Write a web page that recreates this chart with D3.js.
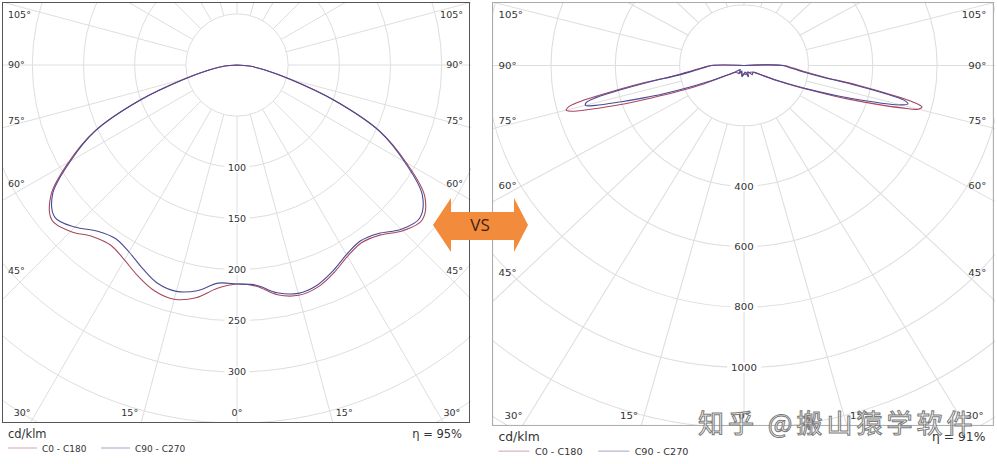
<!DOCTYPE html>
<html>
<head>
<meta charset="utf-8">
<title>LDC VS</title>
<script src="https://cdn.jsdelivr.net/npm/d3@7"></script>
<style>
  body { margin: 0; background: #fff; }
  svg text { font-family: "DejaVu Sans", Verdana, sans-serif; }
</style>
</head>
<body>
<script>
// left diagram: gamma (deg from nadir) and cd/klm per half plane
const gammaA = [0, 5, 10, 15, 20, 25, 30, 35, 40, 45, 50, 55, 60, 65, 70, 75, 80, 85, 90];
const valuesA_C0   = [214, 217, 228, 233, 231, 224, 216, 212, 217, 229, 236, 224, 191, 155, 102, 54, 27, 12, 0];
const valuesA_C180 = [214, 219, 231, 237, 235, 228, 220, 215, 219, 230, 236, 222, 190, 154, 102, 54, 27, 12, 0];
const valuesA_C90  = [214, 216, 226, 231, 229, 222, 214, 210, 215, 227, 233, 221, 189, 154, 101, 53, 27, 12, 0];
const valuesA_C270 = [214, 214, 224, 229, 227, 219, 211, 207, 212, 224, 232, 220, 188, 153, 101, 53, 27, 12, 0];
const ringTicksA = [100, 150, 200, 250, 300];
const etaA = "η = 95%";

// right diagram (batwing)
const gammaB = [0, 10, 20, 30, 40, 50, 55, 60, 64, 67, 69.5, 71, 72.5, 74, 75, 76, 77, 78, 79.5, 81, 84, 87, 90, 95];
const valuesB_C0   = [28, 30, 26, 28, 30, 34, 40, 65, 115, 180, 265, 340, 420, 510, 560, 570, 540, 470, 360, 260, 185, 150, 125, 0];
const valuesB_C180 = [28, 34, 24, 30, 32, 36, 44, 75, 140, 215, 310, 390, 465, 550, 572, 560, 510, 430, 320, 220, 160, 128, 103, 0];
const valuesB_C90  = [28, 22, 40, 24, 40, 36, 42, 62, 110, 170, 250, 310, 380, 460, 505, 525, 510, 450, 340, 245, 175, 142, 120, 0];
const valuesB_C270 = [28, 38, 20, 32, 18, 30, 46, 70, 120, 185, 270, 330, 400, 480, 510, 505, 470, 400, 300, 210, 152, 122, 100, 0];
const ringTicksB = [400, 600, 800, 1000];
const etaB = "η = 91%";

const angleTicks = [0, 15, 30, 45, 60, 75, 90, 105];
const legendNames = ["C0 - C180", "C90 - C270"];
const colors = ["#a8475f", "#4a4a96"];

const width = 997, height = 464;
const W = 469, H = 421, cx = 235, cy = 63;
const rad = Math.PI / 180;

const svg = d3.select("body").append("svg")
  .attr("width", width)
  .attr("height", height);

function drawPanel(id, transform, opt) {
  const g = svg.append("g").attr("transform", transform);
  const r = d3.scaleLinear().domain([0, opt.max]).range([0, opt.maxPx]);

  g.append("clipPath").attr("id", "clip" + id)
    .append("rect").attr("width", W).attr("height", H);

  const grid = g.append("g").attr("clip-path", "url(#clip" + id + ")")
    .style("stroke", "#dedede").style("fill", "none");

  grid.selectAll("circle")
    .data(d3.range(opt.step, opt.step * 12, opt.step))
    .enter().append("circle")
      .attr("cx", cx).attr("cy", cy)
      .attr("r", d => r(d));

  grid.selectAll("line")
    .data(d3.range(0, 360, 15))
    .enter().append("line")
      .attr("x1", d => cx + r(opt.step) * Math.sin(d * rad))
      .attr("y1", d => cy + r(opt.step) * Math.cos(d * rad))
      .attr("x2", d => cx + 900 * Math.sin(d * rad))
      .attr("y2", d => cy + 900 * Math.cos(d * rad));

  // curves: left half (C180/C270) then right half (C0/C90)
  const line = d3.lineRadial()
    .angle(d => d[0])
    .radius(d => r(d[1]))
    .curve(d3.curveCatmullRom.alpha(0.5));

  opt.series.forEach((s, i) => {
    const left = opt.gamma.map((gm, j) => [Math.PI + gm * rad, s[1][j]]).reverse();
    const right = opt.gamma.map((gm, j) => [Math.PI - gm * rad, s[0][j]]).slice(1);
    g.append("path")
      .attr("transform", "translate(" + cx + "," + cy + ")")
      .attr("d", line(left.concat(right)))
      .style("fill", "none")
      .style("stroke", colors[i])
      .style("stroke-width", 1.1);
  });

  // ring values on the 0° axis
  const rl = g.selectAll(".ringlabel")
    .data(opt.ticks)
    .enter().append("g")
      .attr("class", "ringlabel")
      .attr("transform", d => "translate(" + cx + "," + (cy + r(d)) + ")");
  rl.append("rect")
    .attr("x", d => -String(d).length * 3.2 - 3).attr("y", -5)
    .attr("width", d => String(d).length * 6.4 + 6).attr("height", 10)
    .style("fill", "#fff");
  rl.append("text")
    .attr("text-anchor", "middle").attr("dy", "0.35em")
    .style("font-size", "9.5px").style("fill", "#333")
    .text(d => d);

  // angle labels
  const labels = [];
  angleTicks.forEach(a => {
    if (a >= 45) {
      const y = Math.max(13, cy + 206 * Math.tan((90 - a) * rad));
      labels.push({ t: a + "°", x: 6, y: y, anchor: "start" });
      labels.push({ t: a + "°", x: W - 8, y: y, anchor: "end" });
    } else {
      const dx = a === 0 ? 0 : 348 * Math.tan(a * rad) + 14;
      labels.push({ t: a + "°", x: cx - dx, y: cy + 348, anchor: "middle" });
      if (a > 0) labels.push({ t: a + "°", x: cx + dx, y: cy + 348, anchor: "middle" });
    }
  });
  g.selectAll(".anglelabel")
    .data(labels)
    .enter().append("text")
      .attr("class", "anglelabel")
      .attr("x", d => d.x).attr("y", d => d.y)
      .attr("dy", "0.35em")
      .attr("text-anchor", d => d.anchor)
      .style("font-size", "9.5px").style("fill", "#333")
      .text(d => d.t);

  g.append("text").attr("x", 6).attr("y", 436)
    .style("font-size", "11.5px").style("fill", "#333").text("cd/klm");
  g.append("text").attr("x", W - 9).attr("y", 436)
    .attr("text-anchor", "end")
    .style("font-size", "11.5px").style("fill", "#333").text(opt.eta);

  legendNames.forEach((name, i) => {
    const x0 = 6 + i * 93;
    g.append("line")
      .attr("x1", x0).attr("x2", x0 + 29).attr("y1", 446).attr("y2", 446)
      .style("stroke", colors[i]).style("stroke-opacity", 0.5);
    g.append("text").attr("x", x0 + 34).attr("y", 449.5)
      .style("font-size", "9px").style("fill", "#333").text(name);
  });
  return g;
}

const panelA = drawPanel("A", "translate(2,2)", {
  max: 300, maxPx: 307, step: 50, ticks: ringTicksA, eta: etaA,
  gamma: gammaA, series: [[valuesA_C0, valuesA_C180], [valuesA_C90, valuesA_C270]]
});
const panelB = drawPanel("B", "translate(492,2) scale(1.0725,1.007)", {
  max: 1000, maxPx: 300, step: 200, ticks: ringTicksB, eta: etaB,
  gamma: gammaB, series: [[valuesB_C0, valuesB_C180], [valuesB_C90, valuesB_C270]]
});

// orange VS arrow
const ax = 480, ay = 225;
const arrow = [[-47, 0], [-29, -27], [-29, -13], [34, -13], [34, -27], [48, 0],
               [34, 27], [34, 15], [-29, 15], [-29, 27]];
svg.append("path")
  .attr("d", "M" + arrow.map(p => (ax + p[0]) + "," + (ay + p[1])).join("L") + "Z")
  .style("fill", "#f28b3c");
svg.append("text").attr("x", ax).attr("y", ay + 6)
  .attr("text-anchor", "middle")
  .style("font-family", "'Open Sans', sans-serif")
  .style("font-size", "17px").style("fill", "#3b2314").text("VS");

// frames on top
panelA.append("rect").attr("x", 0.5).attr("y", 0.5).attr("width", W - 2).attr("height", H - 1)
  .style("fill", "none").style("stroke", "#555");
panelB.append("rect").attr("x", 0.5).attr("y", 0.5).attr("width", W - 2).attr("height", H - 1)
  .style("fill", "none").style("stroke", "#aaa");

// watermark
svg.append("text").attr("x", 698).attr("y", 433)
  .style("font-family", "'Noto Sans CJK SC', sans-serif")
  .style("font-size", "26px").style("letter-spacing", "4px")
  .style("fill", "rgba(255,255,255,0.65)").style("stroke", "#7a7a7a").style("stroke-width", 1)
  .text("知乎 @搬山猿学软件");
</script>
</body>
</html>
